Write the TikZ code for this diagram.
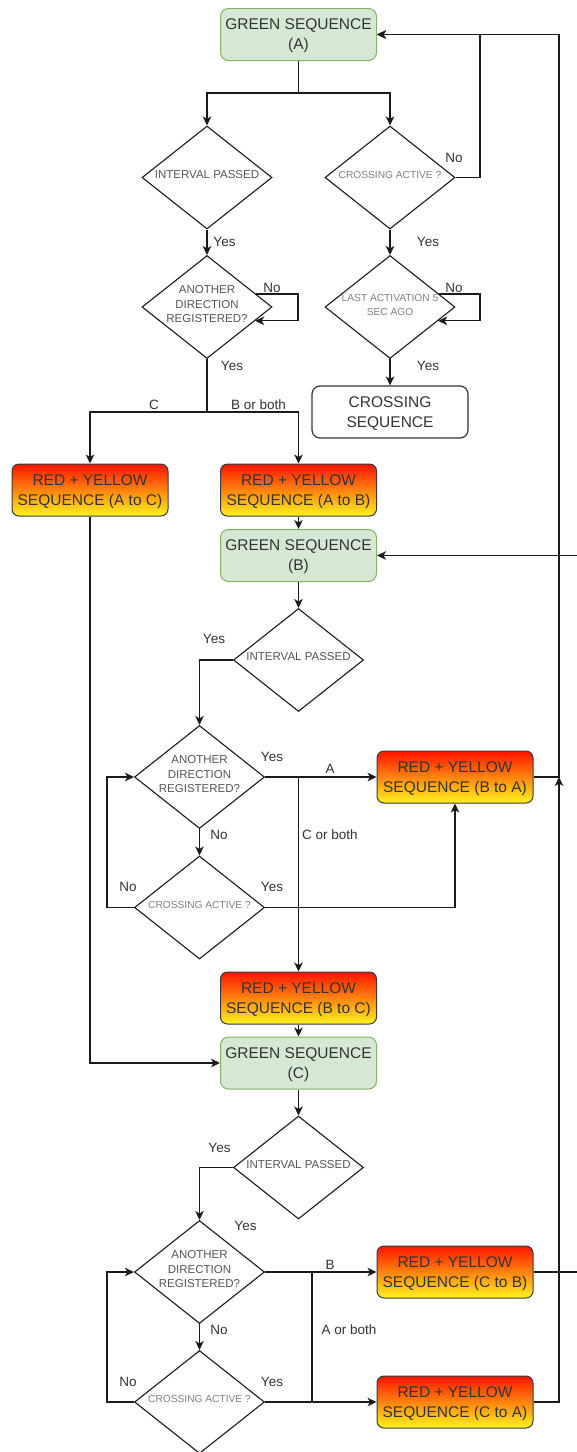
\documentclass[tikz,border=0pt]{standalone}
\usepackage{fontspec}
\setmainfont{Liberation Sans}
\usetikzlibrary{shapes.geometric,arrows.meta}
\definecolor{gfill}{HTML}{D5E8D4}
\definecolor{gborder}{HTML}{82B366}
\definecolor{txt}{HTML}{333333}
\definecolor{ryred}{HTML}{FF1400}
\definecolor{ryyel}{HTML}{FFF41E}
\definecolor{rybd}{HTML}{36393D}
\definecolor{lc}{HTML}{1A1A1A}
\definecolor{dgray}{HTML}{555555}
\definecolor{lgray}{HTML}{808080}
\begin{document}
\begin{tikzpicture}[x=1pt,y=-1pt,
  gbox/.style={rectangle, rounded corners=8pt, draw=gborder, fill=gfill, line width=1pt,
    minimum width=156pt, minimum height=52pt, inner sep=0pt, align=center, text depth=0pt,
    font=\fontsize{15.5}{20}\selectfont, text=txt},
  rybox/.style={rectangle, rounded corners=7pt, draw=rybd, top color=ryred, bottom color=ryyel, line width=1pt,
    minimum width=156pt, minimum height=52pt, inner sep=0pt, align=center, text depth=0pt,
    font=\fontsize{15.5}{20}\selectfont, text=txt},
  wbox/.style={rectangle, rounded corners=8pt, draw=txt, fill=white, line width=1.2pt,
    minimum width=156pt, minimum height=52pt, inner sep=0pt, align=center, text depth=0pt,
    font=\fontsize{15.5}{20}\selectfont, text=txt},
  dmd/.style={diamond, draw=lc, fill=white, line width=1.1pt, minimum width=130pt, minimum height=103pt, inner sep=0pt},
  dtxt/.style={align=center, inner sep=0pt, font=\fontsize{11.5}{14.5}\selectfont, text=dgray},
  dtxs/.style={align=center, inner sep=0pt, font=\fontsize{10.2}{14.5}\selectfont, text=lgray},
  lbl/.style={inner sep=0pt, font=\fontsize{13.5}{16}\selectfont, text=txt},
  ln/.style={line width=1.3pt, draw=lc},
  arr/.style={ln, -{Stealth[length=9pt,width=8.5pt,inset=2.5pt]}}
]
\useasboundingbox (0,0) rectangle (576,1452);

% ---- nodes ----
\node[gbox] (gA) at (298.5,34.5) {GREEN SEQUENCE\\(A)};
\node[dmd] (d1) at (207,177.5) {};
\node[dtxt] at (207,175) {INTERVAL PASSED};
\node[dmd] (d2) at (390,177.5) {};
\node[dtxs] at (390,175) {CROSSING ACTIVE ?};
\node[dmd] (d3) at (207,307) {};
\node[dtxt] at (207,304.5) {ANOTHER\\DIRECTION\\REGISTERED?};
\node[dmd] (d4) at (390,307) {};
\node[dtxs] at (390,305) {LAST ACTIVATION 5\\SEC AGO};
\node[wbox] (cross) at (390,412) {CROSSING\\SEQUENCE};
\node[rybox] (ryAC) at (90,490) {RED + YELLOW\\SEQUENCE (A to C)};
\node[rybox] (ryAB) at (298.5,490) {RED + YELLOW\\SEQUENCE (A to B)};
\node[gbox] (gB) at (298.5,555.5) {GREEN SEQUENCE\\(B)};
\node[dmd] (d5) at (298.5,660) {};
\node[dtxt] at (298.5,657) {INTERVAL PASSED};
\node[dmd] (d6) at (199.5,777) {};
\node[dtxt] at (199.5,774.5) {ANOTHER\\DIRECTION\\REGISTERED?};
\node[rybox] (ryBA) at (455,777) {RED + YELLOW\\SEQUENCE (B to A)};
\node[dmd] (d7) at (199.5,907.5) {};
\node[dtxs] at (199.5,904.5) {CROSSING ACTIVE ?};
\node[rybox] (ryBC) at (298.5,998) {RED + YELLOW\\SEQUENCE (B to C)};
\node[gbox] (gC) at (298.5,1063) {GREEN SEQUENCE\\(C)};
\node[dmd] (d8) at (298.5,1167.5) {};
\node[dtxt] at (298.5,1164.5) {INTERVAL PASSED};
\node[dmd] (d9) at (199.5,1272) {};
\node[dtxt] at (199.5,1269.5) {ANOTHER\\DIRECTION\\REGISTERED?};
\node[rybox] (ryCB) at (455,1272) {RED + YELLOW\\SEQUENCE (C to B)};
\node[dmd] (d10) at (199.5,1402) {};
\node[dtxs] at (199.5,1399) {CROSSING ACTIVE ?};
\node[rybox] (ryCA) at (455,1402) {RED + YELLOW\\SEQUENCE (C to A)};

% ---- junction coordinates ----
\coordinate (jA) at (298.5,93);
\coordinate (rt) at (gA.east -| 559,0);
\coordinate (nA) at (gA.east -| 480,0);
\coordinate (jD3) at (207,412);
\coordinate (jC) at (312,1272);
\coordinate (farR) at (gB.east -| 580,0);

% ---- connectors ----
\draw[ln] (gA.south) -- (jA);
\draw[arr] (jA) -| (d1.north);
\draw[arr] (jA) -| (d2.north);
\draw[arr] (d1.south) -- (d3.north);
\draw[arr] (d2.south) -- (d4.north);
\draw[arr] (d2.east) -| (nA) -- (gA.east);
\draw[arr] (d3.15) -- (d3.15 -| 298,0) |- (d3.-16);
\draw[arr] (d4.15) -- (d4.15 -| 480,0) |- (d4.-16);
\draw[arr] (d4.south) -- (cross.north);
\draw[ln] (d3.south) -- (jD3);
\draw[arr] (jD3) -| (ryAC.north);
\draw[arr] (jD3) -| (ryAB.north);
\draw[arr] (ryAB.south) -- (gB.north);
\draw[arr] (ryAC.south) |- (gC.west);
\draw[arr] (gB.south) -- (d5.north);
\draw[arr] (d5.west) -| (d6.north);
\draw[arr] (d6.east) -- (ryBA.west);
\draw[arr] (ryBC.north |- d6.east) -- (ryBC.north);
\draw[arr] (d6.south) -- (d7.north);
\draw[arr] (d7.east) -| (ryBA.south);
\draw[arr] (d7.west) -- ++(-27,0) |- (d6.west);
\draw[arr] (ryBA.east) -| (rt) -- (gA.east);
\draw[arr] (ryBC.south) -- (gC.north);
\draw[arr] (gC.south) -- (d8.north);
\draw[arr] (d8.west) -| (d9.north);
\draw[arr] (d9.east) -- (ryCB.west);
\draw[ln] (jC) -- (jC |- d10.east);
\draw[arr] (d9.south) -- (d10.north);
\draw[arr] (d10.east) -- (ryCA.west);
\draw[arr] (d10.west) -- ++(-27,0) |- (d9.west);
\draw[arr] (ryCB.east) -| (farR) -- (gB.east);
\draw[arr] (ryCA.east) -| (rt |- ryBA.east);

% ---- labels ----
\node[lbl] at (454,158) {No};
\node[lbl] at (224.5,242) {Yes};
\node[lbl] at (428,242) {Yes};
\node[lbl] at (272,288) {No};
\node[lbl] at (454,288) {No};
\node[lbl] at (232,366) {Yes};
\node[lbl] at (428,366) {Yes};
\node[lbl] at (154,405) {C};
\node[lbl] at (258.5,405) {B or both};
\node[lbl] at (214,639) {Yes};
\node[lbl] at (272,757) {Yes};
\node[lbl] at (330,769) {A};
\node[lbl] at (330,835) {C or both};
\node[lbl] at (219,835) {No};
\node[lbl] at (128,887) {No};
\node[lbl] at (272,887) {Yes};
\node[lbl] at (219.5,1148) {Yes};
\node[lbl] at (245.5,1226) {Yes};
\node[lbl] at (330,1265) {B};
\node[lbl] at (219,1330) {No};
\node[lbl] at (349,1330) {A or both};
\node[lbl] at (128,1382) {No};
\node[lbl] at (272,1382) {Yes};
\end{tikzpicture}
\end{document}
